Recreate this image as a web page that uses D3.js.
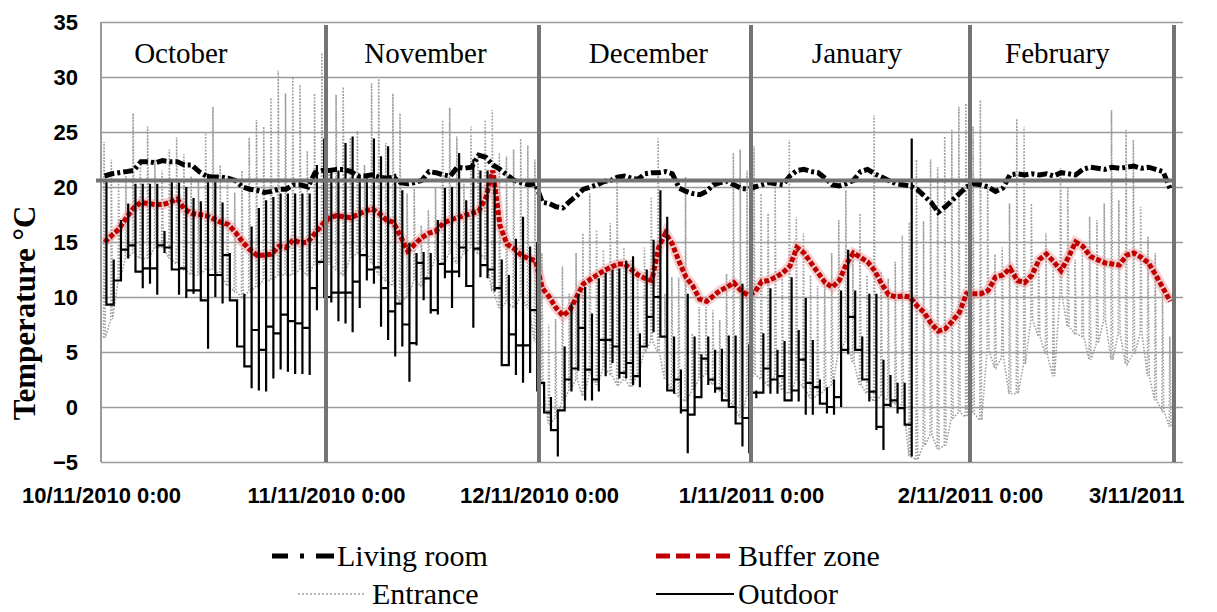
<!DOCTYPE html>
<html>
<head>
<meta charset="utf-8">
<script src="https://cdnjs.cloudflare.com/ajax/libs/d3/7.8.5/d3.min.js"></script>
<style>
  body { margin: 0; background: #fff; }
  svg { display: block; background: #fff; }
</style>
</head>
<body>
<script>
// one value per day, starting 10/11/2010
let seriesNames = ["Living room", "Buffer zone", "Entrance", "Outdoor"];
let monthNames = ["October", "November", "December", "January", "February"];
let monthLabelDays = [11, 45, 77, 107, 135];
let monthLineDays = [31, 61, 92, 123, 151];
let xTickDays = [0, 31, 61, 92, 123, 151];
let xTickLabels = ["10/11/2010 0:00", "11/11/2010 0:00", "12/11/2010 0:00", "1/11/2011 0:00", "2/11/2011 0:00", "3/11/2011"];
let yTicks = [-5, 0, 5, 10, 15, 20, 25, 30, 35];
let comfortLine = 20.6;

let livingRoom = [
  21.0, 21.2, 21.3, 21.4, 21.5, 22.3, 22.3, 22.2, 22.4, 22.3, 22.3, 22.0, 22.0, 21.4, 21.0, 20.9, 20.9, 20.8, 20.6, 20.0, 19.8, 19.7, 19.5, 19.6, 19.8, 19.8, 20.2, 20.2, 20.0, 21.3, 21.5,
  21.5, 21.6, 21.6, 21.4, 21.0, 21.0, 21.1, 20.9, 20.8, 20.9, 20.4, 20.3, 20.4, 20.6, 21.4, 21.3, 21.1, 21.0, 21.8, 21.7, 21.8, 22.9, 22.7, 22.0, 21.6, 21.1, 20.6, 20.4, 20.2, 20.3,
  18.6, 18.5, 18.2, 18.1, 18.7, 19.2, 19.8, 20.0, 20.2, 20.5, 20.6, 20.9, 21.0, 20.8, 20.7, 21.2, 21.3, 21.3, 21.4, 21.2, 19.9, 19.6, 19.4, 19.3, 19.6, 20.2, 20.4, 20.5, 20.2, 19.9, 19.8,
  20.0, 20.2, 20.4, 20.3, 20.2, 21.0, 21.5, 21.6, 21.4, 21.3, 20.8, 20.2, 20.1, 20.3, 20.6, 21.4, 21.6, 21.2, 20.9, 20.6, 20.3, 20.2, 20.1, 19.8, 19.2, 18.6, 17.7, 18.2, 18.8, 19.4, 20.0,
  20.3, 20.2, 20.0, 19.6, 19.9, 21.1, 21.2, 21.1, 21.2, 21.1, 21.2, 21.0, 21.3, 21.2, 21.1, 21.6, 21.8, 21.7, 21.6, 21.8, 21.7, 21.8, 21.9, 21.7, 21.8, 21.6, 21.4, 19.8
];

let bufferZone = [
  15.0, 15.6, 16.2, 17.2, 18.1, 18.6, 18.5, 18.4, 18.4, 18.6, 18.9, 18.0, 17.6, 17.5, 17.4, 17.1, 16.8, 16.6, 15.9, 15.0, 14.3, 13.8, 13.8, 13.9, 14.6, 14.5, 15.2, 14.9, 15.0, 15.8, 16.6,
  17.2, 17.4, 17.3, 17.2, 17.5, 17.8, 18.0, 17.6, 17.0, 16.8, 15.5, 14.2, 14.8, 15.4, 15.8, 16.0, 16.7, 17.0, 17.2, 17.4, 17.6, 17.8, 19.0, 21.5, 16.5, 14.8, 14.4, 13.8, 13.5, 13.3,
  10.8, 10.0, 9.0, 8.3, 8.8, 10.0, 11.2, 11.6, 12.0, 12.4, 12.7, 13.0, 13.0, 12.5, 12.0, 11.7, 11.5, 14.5, 15.8, 14.8, 13.2, 11.8, 11.0, 9.8, 9.6, 10.1, 10.6, 10.9, 11.3, 10.6, 10.2,
  10.4, 11.4, 11.5, 11.8, 12.2, 12.8, 14.5, 14.0, 13.1, 12.2, 11.3, 10.9, 11.5, 13.0, 14.0, 13.6, 13.2, 12.4, 11.2, 10.2, 10.0, 10.1, 10.0, 9.2, 8.6, 7.6, 6.9, 7.1, 7.8, 8.6, 10.3,
  10.3, 10.3, 10.6, 11.8, 12.0, 12.6, 11.5, 11.3, 12.0, 13.4, 13.9, 13.2, 12.4, 13.6, 15.0, 14.6, 13.7, 13.4, 13.1, 13.0, 12.9, 13.8, 14.0, 13.6, 13.1, 12.0, 10.8, 9.6
];

let entranceHigh = [
  24.1, 22.5, 20.5, 21.0, 26.7, 22.0, 25.5, 22.5, 21.5, 23.4, 24.5, 23.0, 21.0, 20.5, 24.9, 27.3, 22.0, 21.0, 19.5, 21.5, 24.5, 26.1, 25.5, 28.1, 30.6, 28.5, 30.0, 29.3, 23.3, 28.5, 32.2,
  21.5, 28.4, 29.1, 24.5, 25.1, 22.0, 29.4, 30.0, 24.0, 28.5, 26.7, 19.4, 20.0, 16.5, 17.9, 20.0, 26.1, 27.2, 24.6, 20.3, 25.5, 23.1, 26.1, 27.0, 23.1, 22.8, 23.4, 24.4, 23.8, 22.5,
  14.0, 7.5, 8.0, 12.8, 10.3, 14.0, 15.8, 19.4, 16.1, 14.3, 16.7, 20.9, 14.5, 13.4, 11.8, 14.5, 19.1, 24.4, 10.3, 11.8, 11.8, 20.9, 6.7, 9.1, 9.1, 8.8, 7.9, 12.1, 23.1, 23.4, 21.5,
  23.7, 19.4, 17.6, 20.0, 12.0, 24.3, 17.3, 15.8, 12.0, 11.0, 11.5, 14.0, 17.0, 19.7, 13.8, 17.6, 12.0, 26.5, 12.3, 11.7, 13.2, 15.6, 16.8, 22.5, 16.9, 22.5, 21.8, 24.6, 25.2, 27.3, 27.6,
  25.5, 27.9, 20.0, 13.9, 14.5, 18.5, 26.2, 25.5, 18.5, 13.4, 15.8, 13.4, 21.7, 19.9, 13.4, 14.0, 17.3, 17.0, 18.5, 27.0, 18.8, 25.2, 24.3, 18.2, 15.5, 14.0, 10.3, 6.4
];

let entranceLow = [
  6.3, 8.0, 11.5, 13.5, 14.0, 13.5, 13.5, 14.5, 14.5, 13.5, 13.0, 12.5, 12.0, 12.0, 12.5, 12.5, 12.0, 11.0, 10.5, 10.0, 10.5, 11.0, 11.5, 11.5, 12.0, 12.0, 12.0, 12.5, 12.0, 13.0, 13.0,
  13.0, 12.5, 12.0, 13.5, 14.0, 14.5, 13.0, 12.0, 11.5, 11.0, 9.5, 10.0, 11.5, 11.0, 12.0, 13.5, 13.0, 14.0, 13.0, 14.0, 14.5, 14.0, 13.5, 10.5, 9.0, 9.5, 9.0, 10.0, 9.0, 6.0,
  2.0, -1.5, -1.0, 0.5, 1.5, 2.5, 1.0, 3.0, 2.0, 3.5, 3.0, 2.0, 2.5, 1.8, 3.0, 5.0, 6.0, 5.0, 2.5, 1.5, 1.0, 0.5, 1.5, 2.5, 3.0, 2.0, 1.5, 1.0, 0.0, -1.0, 1.0,
  3.0, 2.5, 2.0, 2.8, 1.5, 1.2, 2.5, 1.8, 0.8, 1.0, 1.5, 2.0, 5.0, 6.0, 4.0, 2.0, 1.2, 0.5, 1.0, 0.6, 0.3, 0.2, -4.5, -4.8, -3.5, -2.5, -3.8, -3.5, -1.0, -0.5, -0.9,
  -0.6, -1.2, 5.2, 3.6, 4.5, 1.2, 1.2, 3.9, 7.9, 6.4, 4.8, 2.8, 10.3, 7.3, 6.7, 6.4, 4.3, 5.8, 7.9, 4.3, 6.7, 3.9, 4.8, 6.7, 2.8, 0.6, -0.3, -1.8
];

// outdoor logger stops early in February
let outdoorHigh = [
  20.6, 13.4, 17.0, 18.5, 20.3, 20.3, 20.3, 20.3, 16.0, 20.6, 20.4, 20.0, 19.0, 18.7, 21.2, 21.0, 18.6, 14.0, 9.7, 10.3, 16.4, 18.1, 18.8, 19.1, 19.4, 19.4, 19.4, 19.4, 19.4, 22.0, 24.4,
  21.5, 21.5, 24.0, 24.6, 21.1, 21.1, 24.4, 22.8, 23.7, 21.2, 19.7, 14.9, 14.0, 14.1, 14.0, 17.0, 19.9, 20.0, 23.1, 18.8, 22.5, 21.5, 21.5, 20.8, 13.4, 12.0, 15.3, 17.3, 14.6, 15.0,
  1.0, 0.9, -0.3, 5.5, 9.4, 10.3, 10.9, 8.5, 11.7, 12.2, 12.5, 12.6, 13.3, 13.7, 6.7, 12.5, 15.2, 19.7, 17.3, 6.4, 3.4, 10.3, 6.4, 4.8, 6.4, 5.2, 5.3, 6.5, 6.5, 11.2, 5.7,
  1.5, 6.7, 10.8, 5.2, 6.0, 11.8, 7.0, 9.9, 6.1, 2.5, 1.8, 2.5, 10.6, 14.3, 10.6, 6.4, 10.3, 10.3, 4.3, 2.9, 2.2, 2.2, 24.4
];
let outdoorLow = [
  9.3, 9.3, 11.5, 13.5, 12.3, 10.8, 11.2, 10.2, 14.0, 12.5, 10.2, 9.9, 10.3, 9.7, 5.3, 10.0, 9.4, 9.7, 5.5, 3.7, 1.7, 1.5, 1.4, 2.6, 3.4, 3.2, 3.0, 3.0, 2.9, 8.8, 10.0,
  9.5, 7.8, 7.6, 6.8, 9.0, 11.5, 11.2, 7.3, 6.1, 4.6, 5.5, 2.3, 5.6, 9.7, 8.5, 8.4, 11.7, 9.0, 11.8, 11.0, 7.2, 11.8, 11.7, 10.5, 3.8, 3.7, 2.9, 2.2, 3.1, 1.4,
  -0.5, -2.1, -4.5, -0.3, 1.4, 3.3, 0.6, 0.6, 1.4, 2.8, 4.0, 2.6, 2.6, 2.0, 1.8, 5.5, 6.8, 6.4, 1.4, 1.2, -0.6, -4.2, -0.8, 0.9, 2.0, 1.3, 0.6, 0.0, -0.6, -3.6, -4.2,
  0.8, 1.3, 1.2, 1.2, 0.5, 0.6, 0.5, -0.7, -0.7, 0.3, -0.6, -0.7, 0.0, 4.8, 5.2, 2.5, 0.5, -2.1, -3.9, 0.0, -0.6, -1.6, -4.5
];
let outdoorNight = [
  9.3, 11.5, 14.3, 14.7, 12.3, 12.6, 12.6, 14.7, 14.5, 12.5, 12.6, 10.6, 10.6, 9.7, 12.0, 12.0, 13.8, 9.7, 5.5, 3.7, 7.0, 5.2, 7.3, 6.7, 8.4, 7.8, 7.6, 7.2, 10.8, 13.2, 10.0,
  10.4, 10.4, 10.4, 11.4, 13.8, 12.5, 12.7, 10.8, 8.7, 9.4, 7.5, 5.8, 13.1, 11.7, 8.8, 13.0, 12.3, 12.3, 14.5, 11.0, 14.4, 12.9, 12.5, 10.8, 3.8, 6.6, 5.6, 5.6, 8.8, 2.2,
  -0.5, -2.1, -0.3, 2.5, 3.5, 7.2, 3.4, 2.5, 6.1, 6.1, 5.5, 3.1, 4.0, 2.8, 5.5, 8.2, 10.0, 6.4, 1.5, 2.5, -0.3, -0.7, 0.9, 4.4, 2.5, 1.7, 0.6, 0.0, -1.5, -1.0, 1.3,
  1.3, 3.5, 2.5, 2.8, 0.6, 1.5, 4.3, 2.2, 1.8, 0.3, 0.0, 0.9, 5.2, 8.2, 5.2, 2.5, 1.4, -1.8, 0.2, 0.6, -0.1, -1.6, -4.5
];

let x = 1217;
let y = 612;
let svg = d3.select("body").append("svg")
  .attr("width", x)
  .attr("height", y)
  .attr("viewBox", "0 0 " + x + " " + y);

let plot = { left: 101, right: 1174, gridRight: 1183, top: 22, bottom: 462 };
let serif = "'Liberation Serif', 'Times New Roman', serif";
let sans = "'Liberation Sans', Arial, sans-serif";

let start = Date.UTC(2010, 9, 11);
let at = (d) => new Date(start + d * 864e5);

// the axis of the original is not quite even from month to month
let scaleX = d3.scaleUtc()
  .domain(xTickDays.map(at))
  .range([plot.left, 326, 539, 751, 970, plot.right]);
let scaleY = d3.scaleLinear()
  .domain([-5, 35])
  .range([plot.bottom, plot.top]);

let DrawGrid = () =>
{
  let g = svg.append("g")
    .attr("id", "y-axis")
    .attr("transform", "translate(" + plot.left + ",0)")
    .call(d3.axisLeft(scaleY).tickValues(yTicks).tickSize(-(plot.gridRight - plot.left)).tickPadding(23));
  g.select(".domain").remove();
  g.selectAll(".tick line").attr("stroke", "#9a9a9a").attr("stroke-width", 1.5);
  g.selectAll(".tick text")
    .attr("font-family", sans)
    .attr("font-weight", "bold")
    .attr("font-size", "22px")
    .attr("fill", "#000");
  svg.append("line")
    .attr("x1", plot.left).attr("x2", plot.left)
    .attr("y1", plot.top).attr("y2", plot.bottom)
    .attr("stroke", "#9a9a9a").attr("stroke-width", 2);

  let gx = svg.append("g")
    .attr("id", "x-axis")
    .attr("transform", "translate(0," + plot.bottom + ")")
    .call(d3.axisBottom(scaleX)
      .tickValues(xTickDays.map(at))
      .tickFormat((d, i) => xTickLabels[i])
      .tickSize(0)
      .tickPadding(25));
  gx.select(".domain").remove();
  gx.selectAll(".tick text")
    .attr("font-family", sans)
    .attr("font-weight", "bold")
    .attr("font-size", "22px")
    .attr("fill", "#000");
  gx.selectAll(".tick text")
    .filter((d, i) => i == xTickLabels.length - 1)
    .attr("text-anchor", "end")
    .attr("x", 10);
}

let DrawText = () =>
{
  svg.append("text")
    .text("Temperature °C")
    .attr("transform", "translate(35,313) rotate(-90)")
    .attr("text-anchor", "middle")
    .attr("font-family", serif)
    .attr("font-weight", "bold")
    .attr("font-size", "31px");
}

let line = d3.line()
  .x((p) => scaleX(at(p[0])))
  .y((p) => scaleY(p[1]));

let DrawSeries = () =>
{
  // entrance: daily rise and fall
  let ent = [];
  entranceHigh.forEach((h, i) =>
  {
    ent.push([i + 0.35, entranceLow[i]]);
    ent.push([i + 0.42, h]);
    ent.push([i + 0.6, entranceLow[i]]);
  });
  svg.append("path")
    .attr("d", line(ent))
    .attr("fill", "none")
    .attr("stroke", "#a0a0a0")
    .attr("stroke-width", 1.6)
    .attr("stroke-dasharray", "1.6,1.6");

  svg.append("path")
    .attr("d", line(livingRoom.map((v, i) => [i + 0.5, v])))
    .attr("fill", "none")
    .attr("stroke", "#000")
    .attr("stroke-width", 5)
    .attr("stroke-dasharray", "10,3,3,3");

  let buffer = line(bufferZone.map((v, i) => [i + 0.5, v]));
  svg.append("path")
    .attr("d", buffer)
    .attr("fill", "none")
    .attr("stroke", "#e89a9a")
    .attr("stroke-opacity", 0.45)
    .attr("stroke-width", 10);
  svg.append("path")
    .attr("d", buffer)
    .attr("fill", "none")
    .attr("stroke", "#c00000")
    .attr("stroke-width", 5)
    .attr("stroke-dasharray", "5,2");

  // outdoor: afternoon spike then flat night level
  let out = [];
  outdoorHigh.forEach((h, i) =>
  {
    let t = i + 0.75;
    if (i > 0) out.push([t, outdoorNight[i - 1]]);
    out.push([t, h]);
    out.push([t, outdoorLow[i]]);
    out.push([t, outdoorNight[i]]);
    if (i < outdoorHigh.length - 1) out.push([t + 1, outdoorNight[i]]);
  });
  svg.append("path")
    .attr("d", line(out))
    .attr("fill", "none")
    .attr("stroke", "#000")
    .attr("stroke-width", 2.2);
}

let DrawMonths = () =>
{
  svg.append("line")
    .attr("x1", plot.left - 5).attr("x2", plot.right + 1)
    .attr("y1", scaleY(comfortLine)).attr("y2", scaleY(comfortLine))
    .attr("stroke", "#747474").attr("stroke-width", 4);
  svg.selectAll(".month-line").data(monthLineDays).enter().append("line")
    .attr("class", "month-line")
    .attr("x1", (d) => scaleX(at(d))).attr("x2", (d) => scaleX(at(d)))
    .attr("y1", plot.top + 3).attr("y2", plot.bottom)
    .attr("stroke", "#747474").attr("stroke-width", 4);
  svg.selectAll(".month-label").data(monthNames).enter().append("text")
    .attr("class", "month-label")
    .text((d) => d)
    .attr("x", (d, i) => scaleX(at(monthLabelDays[i])))
    .attr("y", 63)
    .attr("text-anchor", "middle")
    .attr("font-family", serif)
    .attr("font-size", "29px");
}

let DrawLegend = () =>
{
  let items = [
    { name: seriesNames[0], x1: 272, x2: 334, tx: 337, row: 0, stroke: "#000", w: 5, dash: "16,12,4,12,18" },
    { name: seriesNames[1], x1: 656, x2: 732, tx: 738, row: 0, stroke: "#c00000", w: 5, dash: "14,6" },
    { name: seriesNames[2], x1: 298, x2: 366, tx: 372, row: 1, stroke: "#a0a0a0", w: 1.6, dash: "2,2" },
    { name: seriesNames[3], x1: 656, x2: 734, tx: 738, row: 1, stroke: "#000", w: 2, dash: null }
  ];
  let legend = svg.append("g").attr("id", "legend");
  let entry = legend.selectAll("g").data(items).enter().append("g")
    .attr("transform", (d) => "translate(0," + (556 + d.row * 38) + ")");
  entry.append("line")
    .attr("x1", (d) => d.x1).attr("x2", (d) => d.x2)
    .attr("y1", 0).attr("y2", 0)
    .attr("stroke", (d) => d.stroke)
    .attr("stroke-width", (d) => d.w)
    .attr("stroke-dasharray", (d) => d.dash);
  entry.append("text")
    .text((d) => d.name)
    .attr("x", (d) => d.tx)
    .attr("y", 10)
    .attr("font-family", serif)
    .attr("font-size", "30px");
}

DrawGrid();
DrawText();
DrawSeries();
DrawMonths();
DrawLegend();
</script>
</body>
</html>
